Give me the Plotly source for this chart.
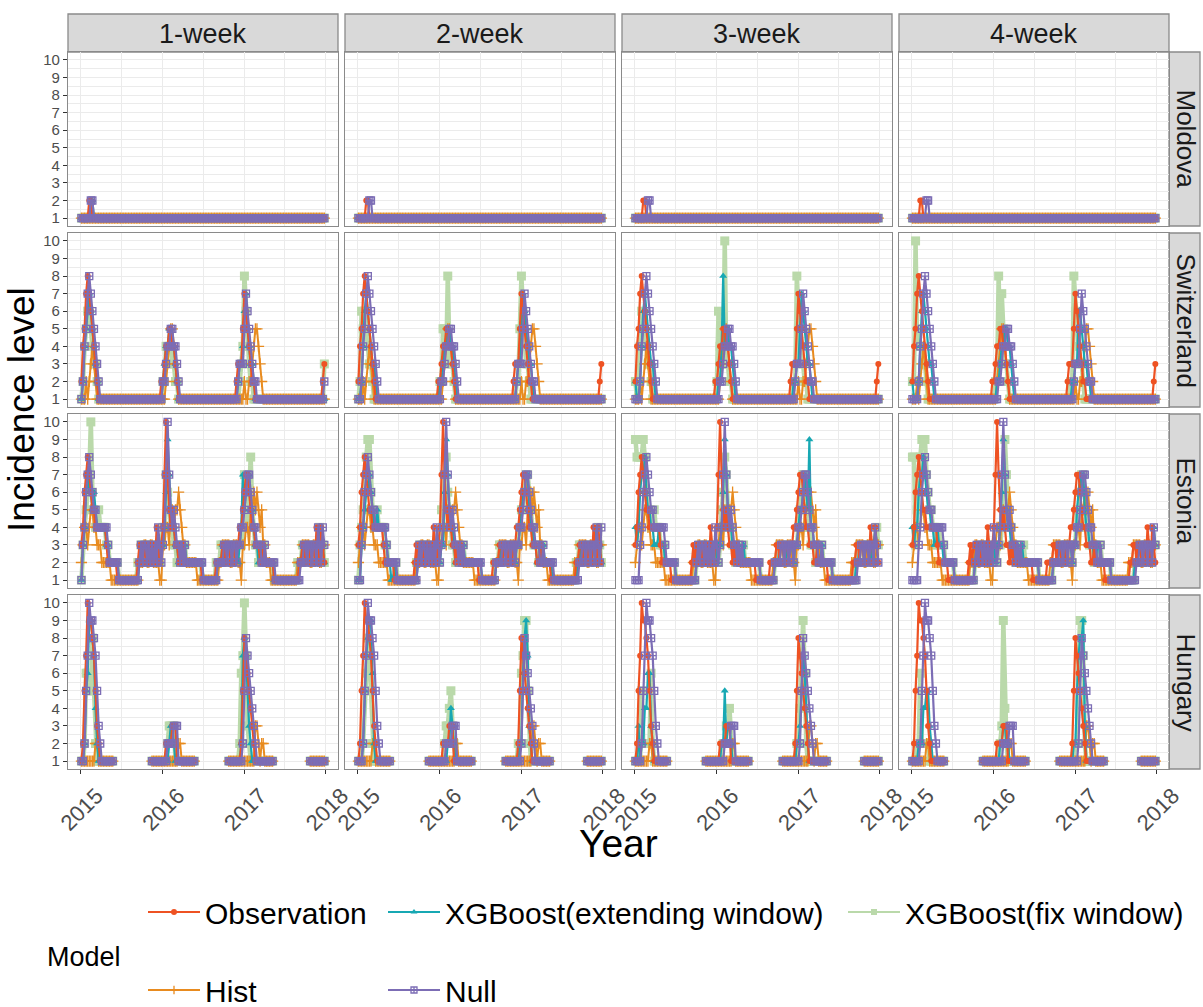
import plotly.graph_objects as go
from datetime import date, timedelta

# Weekly time axis (ISO weeks starting Monday 2015-01-05)
N_WEEKS = 156
weeks = [(date(2015, 1, 5) + timedelta(weeks=i)).isoformat() for i in range(N_WEEKS)]

horizons = ["1-week", "2-week", "3-week", "4-week"]
countries = ["Moldova", "Switzerland", "Estonia", "Hungary"]
models = ["Observation", "XGBoost(extending window)", "XGBoost(fix window)", "Hist", "Null"]
year_ticks = ["2015-01-01", "2016-01-01", "2017-01-01", "2018-01-01"]
year_labels = ["2015", "2016", "2017", "2018"]
level_ticks = [1, 2, 3, 4, 5, 6, 7, 8, 9, 10]

# Each series is a list of (week index, incidence level) change points;
# the level holds until the next change point. None marks weeks without data.

# ---------------- Moldova ----------------
obs_moldova = [(0, 1), (5, 2), (7, 1)]
hist_moldova = [(0, 1)]
null_moldova_1w = [(0, 1), (6, 2), (8, 1)]
null_moldova_2w = [(0, 1), (7, 2), (9, 1)]
null_moldova_3w = [(0, 1), (8, 2), (10, 1)]
null_moldova_4w = [(0, 1), (9, 2), (11, 1)]
ext_moldova_1w = [(0, 1), (6, 2), (8, 1)]
ext_moldova_2w = [(0, 1)]
ext_moldova_3w = [(0, 1)]
ext_moldova_4w = [(0, 1)]
fix_moldova_1w = [(0, 1)]
fix_moldova_2w = [(0, 1)]
fix_moldova_3w = [(0, 1)]
fix_moldova_4w = [(0, 1)]

# ---------------- Switzerland ----------------
obs_switzerland = [(0, 2), (1, 4), (2, 5), (3, 7), (4, 8), (5, 7), (6, 6), (7, 5), (8, 4), (9, 3), (10, 2), (11, 1),
                   (51, 2), (53, 3), (54, 4), (56, 5), (58, 4), (60, 3), (61, 2), (62, 1),
                   (99, 2), (100, 3), (103, 5), (104, 7), (105, 6), (106, 5), (107, 4), (108, 3), (109, 2), (111, 1),
                   (154, 2), (155, 3)]
hist_switzerland = [(0, 1), (3, 2), (4, 1), (5, 2), (6, 3), (7, 4), (8, 3), (9, 2), (10, 1),
                    (54, 2), (55, 3), (56, 4), (57, 5), (59, 4), (60, 3), (61, 2), (62, 1),
                    (104, 2), (105, 1), (107, 2), (109, 3), (110, 4), (111, 5), (113, 4), (114, 3), (115, 2), (116, 1)]
null_switzerland_1w = [(0, 1), (1, 2), (2, 4), (3, 5), (4, 7), (5, 8), (6, 7), (7, 6), (8, 5), (9, 4), (10, 3), (11, 2), (12, 1),
                       (52, 2), (54, 3), (55, 4), (57, 5), (59, 4), (61, 3), (62, 2), (63, 1),
                       (100, 2), (101, 3), (104, 5), (105, 7), (106, 6), (107, 5), (108, 4), (109, 3), (110, 2), (112, 1),
                       (155, 2)]
null_switzerland_2w = [(0, 1), (2, 2), (3, 4), (4, 5), (5, 7), (6, 8), (7, 7), (8, 6), (9, 5), (10, 4), (11, 3), (12, 2), (13, 1),
                       (53, 2), (55, 3), (56, 4), (58, 5), (60, 4), (62, 3), (63, 2), (64, 1),
                       (101, 2), (102, 3), (105, 5), (106, 7), (107, 6), (108, 5), (109, 4), (110, 3), (111, 2), (113, 1)]
null_switzerland_3w = [(0, 1), (3, 2), (4, 4), (5, 5), (6, 7), (7, 8), (8, 7), (9, 6), (10, 5), (11, 4), (12, 3), (13, 2), (14, 1),
                       (54, 2), (56, 3), (57, 4), (59, 5), (61, 4), (63, 3), (64, 2), (65, 1),
                       (102, 2), (103, 3), (106, 5), (107, 7), (108, 6), (109, 5), (110, 4), (111, 3), (112, 2), (114, 1)]
null_switzerland_4w = [(0, 1), (4, 2), (5, 4), (6, 5), (7, 7), (8, 8), (9, 7), (10, 6), (11, 5), (12, 4), (13, 3), (14, 2), (15, 1),
                       (55, 2), (57, 3), (58, 4), (60, 5), (62, 4), (64, 3), (65, 2), (66, 1),
                       (103, 2), (104, 3), (107, 5), (108, 7), (109, 6), (110, 5), (111, 4), (112, 3), (113, 2), (115, 1)]
ext_switzerland_1w = [(0, 1), (1, 2), (2, 4), (3, 5), (4, 6), (5, 7), (6, 6), (7, 5), (8, 4), (9, 3), (10, 2), (11, 1),
                      (52, 2), (53, 3), (54, 4), (56, 5), (58, 4), (60, 3), (61, 2), (62, 1),
                      (100, 2), (101, 3), (103, 4), (104, 6), (105, 7), (106, 5), (107, 4), (108, 3), (110, 2), (111, 1)]
ext_switzerland_2w = [(0, 1), (2, 2), (3, 4), (4, 6), (5, 7), (6, 6), (7, 5), (8, 4), (9, 3), (11, 2), (12, 1),
                      (52, 2), (54, 3), (55, 4), (57, 5), (59, 4), (61, 3), (62, 2), (63, 1),
                      (101, 2), (102, 3), (104, 5), (105, 7), (106, 6), (107, 5), (108, 4), (109, 3), (111, 2), (112, 1)]
ext_switzerland_3w = [(0, 2), (1, 1), (3, 2), (4, 4), (5, 6), (6, 7), (7, 6), (8, 5), (9, 4), (10, 3), (12, 2), (13, 1),
                      (53, 2), (55, 4), (56, 8), (57, 4), (58, 5), (60, 4), (62, 3), (63, 2), (64, 1),
                      (101, 2), (103, 3), (105, 5), (106, 7), (107, 6), (108, 5), (109, 4), (110, 3), (112, 2), (113, 1)]
ext_switzerland_4w = [(0, 2), (1, 1), (4, 2), (5, 4), (6, 6), (7, 7), (8, 6), (9, 5), (10, 4), (11, 3), (13, 2), (14, 1),
                      (54, 2), (56, 3), (57, 4), (59, 5), (61, 4), (63, 3), (64, 2), (65, 1),
                      (102, 2), (104, 3), (106, 6), (108, 5), (109, 4), (110, 3), (112, 2), (114, 1)]
fix_switzerland_1w = [(0, 1), (1, 2), (2, 4), (3, 5), (4, 6), (6, 5), (7, 4), (8, 3), (10, 2), (11, 1),
                      (52, 2), (54, 4), (58, 3), (60, 2), (62, 1),
                      (101, 2), (102, 3), (103, 4), (104, 8), (105, 6), (106, 4), (107, 3), (108, 2), (110, 1),
                      (155, 3)]
fix_switzerland_2w = [(0, 1), (1, 2), (2, 6), (3, 5), (4, 6), (5, 5), (6, 4), (7, 3), (9, 2), (10, 1),
                      (52, 2), (54, 5), (56, 3), (57, 8), (58, 4), (59, 3), (61, 2), (62, 1),
                      (101, 2), (103, 5), (104, 8), (105, 6), (106, 4), (107, 3), (109, 2), (110, 1)]
fix_switzerland_3w = [(0, 2), (1, 1), (2, 2), (3, 4), (4, 6), (5, 5), (6, 4), (8, 3), (10, 2), (11, 1),
                      (52, 2), (53, 6), (54, 4), (55, 3), (57, 10), (58, 3), (60, 2), (62, 1),
                      (101, 2), (103, 8), (104, 5), (105, 4), (106, 3), (108, 2), (110, 1)]
fix_switzerland_4w = [(0, 2), (2, 10), (3, 4), (4, 5), (5, 4), (7, 3), (9, 2), (10, 1),
                      (53, 2), (55, 8), (56, 4), (57, 7), (58, 5), (59, 3), (61, 2), (62, 1),
                      (101, 2), (103, 8), (104, 6), (105, 5), (106, 4), (107, 3), (109, 2), (110, 1)]

# ---------------- Estonia ----------------
obs_estonia = [(0, 3), (1, 4), (2, 6), (3, 7), (4, 8), (5, 7), (6, 6), (7, 5), (9, 4), (16, 3), (17, 2), (23, 1),
               (36, 2), (37, 3), (38, 2), (39, 3), (41, 2), (42, 3), (43, 2), (44, 3), (45, 2), (46, 3), (47, 2),
               (48, 4), (49, 3), (50, 2), (51, 3), (52, 4), (53, 7), (54, 10), (55, 7), (56, 5), (57, 4), (58, 5),
               (59, 4), (60, 3), (62, 2), (63, 3), (64, 2), (65, 3), (66, 2), (77, 1), (86, 2), (90, 3), (92, 2),
               (93, 3), (95, 2), (96, 3), (98, 2), (99, 3), (101, 4), (103, 5), (104, 6), (105, 7), (107, 6),
               (108, 5), (109, 4), (111, 3), (114, 2), (116, 3), (117, 2), (123, 1), (139, 2), (141, 3), (143, 2),
               (144, 3), (146, 2), (147, 3), (149, 2), (150, 4), (151, 3), (152, 2), (153, 4), (154, 3), (155, 2)]
hist_estonia = [(0, 2), (1, 3), (2, 4), (4, 3), (5, 4), (6, 5), (8, 4), (10, 3), (13, 2), (19, 1),
                (37, 2), (40, 3), (42, 2), (44, 3), (46, 2), (50, 1), (52, 3), (54, 4), (56, 3), (57, 5), (59, 4),
                (60, 5), (62, 6), (63, 5), (64, 4), (65, 3), (67, 2), (74, 1), (88, 2), (90, 3), (95, 2), (97, 3),
                (100, 2), (102, 1), (103, 3), (105, 4), (107, 3), (108, 5), (110, 6), (111, 5), (112, 6), (113, 5),
                (114, 4), (115, 5), (116, 3), (118, 2), (121, 1), (138, 2), (141, 3), (146, 2), (148, 3), (152, 2),
                (154, 3)]
null_estonia_1w = [(0, 1), (1, 3), (2, 4), (3, 6), (4, 7), (5, 8), (6, 7), (7, 6), (8, 5), (10, 4), (17, 3), (18, 2),
                   (24, 1), (37, 2), (38, 3), (39, 2), (40, 3), (42, 2), (43, 3), (44, 2), (45, 3), (46, 2), (47, 3),
                   (48, 2), (49, 4), (50, 3), (51, 2), (52, 3), (53, 4), (54, 7), (55, 10), (56, 7), (57, 5), (58, 4),
                   (59, 5), (60, 4), (61, 3), (63, 2), (64, 3), (65, 2), (66, 3), (67, 2), (78, 1), (87, 2), (91, 3),
                   (93, 2), (94, 3), (96, 2), (97, 3), (99, 2), (100, 3), (102, 4), (104, 5), (105, 6), (106, 7),
                   (108, 6), (109, 5), (110, 4), (112, 3), (115, 2), (117, 3), (118, 2), (124, 1), (140, 2), (142, 3),
                   (144, 2), (145, 3), (147, 2), (148, 3), (150, 2), (151, 4), (152, 3), (153, 2), (154, 4), (155, 3)]
null_estonia_2w = [(0, 1), (2, 3), (3, 4), (4, 6), (5, 7), (6, 8), (7, 7), (8, 6), (9, 5), (11, 4), (18, 3), (19, 2),
                   (25, 1), (38, 2), (39, 3), (40, 2), (41, 3), (43, 2), (44, 3), (45, 2), (46, 3), (47, 2), (48, 3),
                   (49, 2), (50, 4), (51, 3), (52, 2), (53, 3), (54, 4), (55, 7), (56, 10), (57, 7), (58, 5), (59, 4),
                   (60, 5), (61, 4), (62, 3), (64, 2), (65, 3), (66, 2), (67, 3), (68, 2), (79, 1), (88, 2), (92, 3),
                   (94, 2), (95, 3), (97, 2), (98, 3), (100, 2), (101, 3), (103, 4), (105, 5), (106, 6), (107, 7),
                   (109, 6), (110, 5), (111, 4), (113, 3), (116, 2), (118, 3), (119, 2), (125, 1), (141, 2), (143, 3),
                   (145, 2), (146, 3), (148, 2), (149, 3), (151, 2), (152, 4), (153, 3), (154, 2), (155, 4)]
null_estonia_3w = [(0, 1), (3, 3), (4, 4), (5, 6), (6, 7), (7, 8), (8, 7), (9, 6), (10, 5), (12, 4), (19, 3), (20, 2),
                   (26, 1), (39, 2), (40, 3), (41, 2), (42, 3), (44, 2), (45, 3), (46, 2), (47, 3), (48, 2), (49, 3),
                   (50, 2), (51, 4), (52, 3), (53, 2), (54, 3), (55, 4), (56, 7), (57, 10), (58, 7), (59, 5), (60, 4),
                   (61, 5), (62, 4), (63, 3), (65, 2), (66, 3), (67, 2), (68, 3), (69, 2), (80, 1), (89, 2), (93, 3),
                   (95, 2), (96, 3), (98, 2), (99, 3), (101, 2), (102, 3), (104, 4), (106, 5), (107, 6), (108, 7),
                   (110, 6), (111, 5), (112, 4), (114, 3), (117, 2), (119, 3), (120, 2), (126, 1), (142, 2), (144, 3),
                   (146, 2), (147, 3), (149, 2), (150, 3), (152, 2), (153, 4), (154, 3), (155, 2)]
null_estonia_4w = [(0, 1), (4, 3), (5, 4), (6, 6), (7, 7), (8, 8), (9, 7), (10, 6), (11, 5), (13, 4), (20, 3), (21, 2),
                   (27, 1), (40, 2), (41, 3), (42, 2), (43, 3), (45, 2), (46, 3), (47, 2), (48, 3), (49, 2), (50, 3),
                   (51, 2), (52, 4), (53, 3), (54, 2), (55, 3), (56, 4), (57, 7), (58, 10), (59, 7), (60, 5), (61, 4),
                   (62, 5), (63, 4), (64, 3), (66, 2), (67, 3), (68, 2), (69, 3), (70, 2), (81, 1), (90, 2), (94, 3),
                   (96, 2), (97, 3), (99, 2), (100, 3), (102, 2), (103, 3), (105, 4), (107, 5), (108, 6), (109, 7),
                   (111, 6), (112, 5), (113, 4), (115, 3), (118, 2), (120, 3), (121, 2), (127, 1), (143, 2), (145, 3),
                   (147, 2), (148, 3), (150, 2), (151, 3), (153, 2), (154, 4), (155, 3)]
ext_estonia_1w = [(0, 1), (1, 3), (2, 4), (3, 6), (4, 7), (5, 6), (7, 5), (8, 6), (9, 5), (10, 4), (16, 3), (18, 2),
                  (24, 1), (37, 2), (38, 3), (39, 2), (40, 3), (42, 2), (43, 3), (45, 2), (46, 3), (48, 2), (49, 3),
                  (50, 2), (51, 3), (53, 4), (54, 6), (55, 9), (56, 7), (57, 5), (58, 4), (60, 3), (62, 2), (63, 3),
                  (64, 2), (66, 3), (67, 2), (78, 1), (87, 2), (90, 3), (92, 2), (93, 3), (95, 2), (97, 3), (100, 2),
                  (101, 3), (102, 4), (103, 7), (104, 5), (105, 6), (106, 7), (108, 5), (110, 4), (111, 3), (113, 2),
                  (115, 3), (117, 2), (123, 1), (139, 2), (141, 3), (143, 2), (145, 3), (147, 2), (148, 3), (150, 2),
                  (151, 3), (152, 4), (153, 3), (155, 2)]
ext_estonia_2w = [(0, 1), (2, 3), (3, 4), (4, 5), (5, 6), (7, 7), (8, 6), (9, 5), (10, 4), (12, 5), (13, 4), (18, 3),
                  (19, 2), (21, 1), (23, 2), (24, 1), (38, 2), (40, 3), (41, 2), (43, 3), (45, 2), (46, 3), (48, 2),
                  (50, 3), (52, 2), (53, 3), (55, 6), (56, 9), (57, 7), (58, 5), (59, 4), (61, 3), (62, 2), (64, 3),
                  (65, 2), (67, 3), (68, 2), (79, 1), (88, 2), (91, 3), (95, 2), (96, 3), (100, 2), (101, 3), (103, 4),
                  (104, 5), (105, 6), (107, 7), (109, 5), (110, 4), (112, 3), (114, 2), (117, 3), (119, 2), (124, 1),
                  (140, 2), (142, 3), (145, 2), (146, 3), (149, 2), (150, 3), (152, 4), (153, 3), (155, 2)]
ext_estonia_3w = [(0, 4), (1, 3), (2, 4), (3, 6), (4, 7), (6, 8), (7, 6), (8, 5), (10, 4), (12, 3), (15, 4), (16, 3),
                  (19, 2), (26, 1), (39, 2), (40, 3), (42, 2), (44, 3), (46, 2), (47, 3), (49, 2), (50, 3), (52, 2),
                  (53, 3), (55, 4), (56, 6), (57, 9), (58, 7), (59, 5), (60, 4), (62, 3), (64, 2), (66, 3), (67, 2),
                  (69, 3), (70, 2), (80, 1), (89, 2), (92, 3), (95, 2), (97, 3), (101, 2), (102, 3), (104, 4), (105, 5),
                  (107, 6), (108, 7), (109, 6), (110, 5), (111, 9), (112, 4), (114, 3), (117, 2), (119, 3), (120, 2),
                  (126, 1), (141, 2), (143, 3), (146, 2), (147, 3), (150, 2), (151, 3), (153, 4), (154, 3), (155, 2)]
ext_estonia_4w = [(0, 4), (1, 3), (2, 4), (4, 6), (5, 7), (7, 8), (8, 7), (9, 6), (10, 5), (12, 4), (14, 3), (16, 4),
                  (17, 3), (20, 2), (27, 1), (40, 2), (41, 3), (43, 2), (45, 3), (47, 2), (48, 3), (50, 2), (51, 3),
                  (53, 2), (54, 3), (56, 4), (57, 6), (58, 9), (59, 7), (60, 5), (61, 4), (63, 3), (65, 2), (67, 3),
                  (68, 2), (70, 3), (71, 2), (81, 1), (90, 2), (93, 3), (96, 2), (98, 3), (102, 2), (103, 3), (105, 5),
                  (106, 6), (107, 7), (108, 6), (109, 7), (110, 5), (111, 4), (113, 3), (116, 2), (118, 3), (120, 2),
                  (127, 1), (142, 2), (144, 3), (147, 2), (148, 3), (151, 2), (152, 3), (154, 4), (155, 3)]
fix_estonia_1w = [(0, 1), (1, 3), (2, 4), (3, 5), (4, 6), (5, 7), (6, 10), (7, 6), (8, 5), (9, 4), (11, 5), (12, 4),
                  (16, 3), (18, 2), (24, 1), (36, 2), (38, 3), (40, 2), (41, 3), (43, 2), (45, 3), (47, 2), (49, 3),
                  (50, 2), (51, 3), (52, 4), (54, 7), (55, 6), (56, 5), (57, 4), (59, 3), (61, 2), (63, 3), (64, 2),
                  (66, 3), (67, 2), (77, 1), (86, 2), (89, 3), (92, 2), (93, 3), (96, 2), (97, 3), (99, 2), (100, 3),
                  (103, 4), (104, 7), (105, 6), (106, 4), (107, 6), (108, 8), (109, 5), (110, 4), (111, 3), (113, 2),
                  (116, 3), (117, 2), (123, 1), (138, 2), (141, 3), (143, 2), (145, 3), (148, 2), (150, 3), (152, 4),
                  (153, 3), (155, 2)]
fix_estonia_2w = [(0, 1), (1, 3), (2, 4), (3, 5), (4, 6), (5, 8), (6, 9), (8, 6), (9, 5), (10, 4), (12, 5), (13, 4),
                  (17, 3), (19, 2), (25, 1), (37, 2), (39, 3), (41, 2), (42, 3), (44, 2), (46, 3), (48, 2), (50, 3),
                  (51, 2), (52, 3), (53, 5), (54, 4), (55, 7), (56, 8), (57, 6), (58, 5), (59, 4), (60, 3), (62, 2),
                  (64, 3), (65, 2), (67, 3), (68, 2), (78, 1), (87, 2), (90, 3), (93, 2), (94, 3), (97, 2), (98, 3),
                  (100, 2), (101, 3), (103, 4), (104, 5), (106, 6), (107, 7), (109, 6), (110, 5), (111, 4), (112, 3),
                  (115, 2), (117, 3), (118, 2), (124, 1), (139, 2), (141, 3), (144, 2), (145, 3), (148, 2), (150, 3),
                  (153, 4), (154, 3), (155, 2)]
fix_estonia_3w = [(0, 9), (1, 8), (5, 9), (6, 8), (7, 6), (8, 5), (10, 4), (12, 5), (13, 4), (16, 3), (19, 2), (26, 1),
                  (39, 2), (41, 3), (42, 2), (44, 3), (46, 2), (48, 3), (49, 2), (51, 3), (53, 2), (54, 3), (55, 5),
                  (56, 6), (57, 8), (58, 7), (59, 5), (60, 4), (62, 3), (64, 2), (66, 3), (67, 2), (69, 3), (70, 2),
                  (80, 1), (89, 2), (92, 3), (95, 2), (97, 3), (101, 2), (102, 3), (104, 4), (105, 5), (106, 6),
                  (107, 7), (109, 5), (110, 4), (112, 3), (115, 2), (118, 3), (120, 2), (126, 1), (141, 2), (143, 3),
                  (146, 2), (148, 3), (151, 2), (152, 3), (154, 4), (155, 3)]
fix_estonia_4w = [(0, 8), (2, 3), (3, 5), (4, 6), (5, 8), (6, 9), (9, 7), (10, 6), (11, 5), (13, 4), (15, 3), (17, 4),
                  (18, 3), (21, 2), (27, 1), (40, 2), (42, 3), (43, 2), (45, 3), (47, 2), (49, 3), (50, 2), (52, 3),
                  (54, 2), (55, 3), (57, 4), (58, 6), (59, 9), (60, 7), (61, 5), (62, 4), (64, 3), (66, 2), (68, 3),
                  (69, 2), (71, 3), (72, 2), (81, 1), (90, 2), (93, 3), (96, 2), (98, 3), (102, 2), (103, 3), (105, 5),
                  (107, 6), (108, 7), (110, 6), (111, 4), (113, 3), (116, 2), (118, 3), (121, 2), (127, 1), (142, 2),
                  (144, 3), (147, 2), (149, 3), (152, 2), (153, 3)]

# ---------------- Hungary (reported in-season only) ----------------
obs_hungary = [(0, 1), (1, 2), (2, 5), (3, 7), (4, 10), (5, 9), (7, 8), (8, 7), (9, 5), (10, 3), (11, 2), (12, 1),
               (21, None), (45, 1), (54, 2), (58, 3), (61, 1), (73, None),
               (94, 1), (102, 2), (103, 5), (104, 8), (105, 7), (106, 6), (107, 5), (108, 4), (109, 3), (110, 2),
               (111, 1), (123, None), (146, 1)]
hist_hungary = [(0, 1), (9, 2), (11, 1), (21, None), (45, 1), (62, 2), (64, 1), (73, None),
                (94, 1), (111, 3), (113, 2), (114, 1), (115, 2), (117, 1), (123, None), (146, 1)]
null_hungary_1w = [(0, 1), (2, 2), (3, 5), (4, 7), (5, 10), (6, 9), (8, 8), (9, 7), (10, 5), (11, 3), (12, 2), (13, 1),
                   (21, None), (45, 1), (55, 2), (59, 3), (62, 1), (73, None),
                   (94, 1), (103, 2), (104, 5), (105, 8), (106, 7), (107, 6), (108, 5), (109, 4), (110, 3), (111, 2),
                   (112, 1), (123, None), (146, 1)]
null_hungary_2w = [(0, 1), (3, 2), (4, 5), (5, 7), (6, 10), (7, 9), (9, 8), (10, 7), (11, 5), (12, 3), (13, 2), (14, 1),
                   (21, None), (45, 1), (56, 2), (60, 3), (63, 1), (73, None),
                   (94, 1), (104, 2), (105, 5), (106, 8), (107, 7), (108, 6), (109, 5), (110, 4), (111, 3), (112, 2),
                   (113, 1), (123, None), (146, 1)]
null_hungary_3w = [(0, 1), (4, 2), (5, 5), (6, 7), (7, 10), (8, 9), (10, 8), (11, 7), (12, 5), (13, 3), (14, 2), (15, 1),
                   (21, None), (45, 1), (57, 2), (61, 3), (64, 1), (73, None),
                   (94, 1), (105, 2), (106, 5), (107, 8), (108, 7), (109, 6), (110, 5), (111, 4), (112, 3), (113, 2),
                   (114, 1), (123, None), (146, 1)]
null_hungary_4w = [(0, 1), (5, 2), (6, 5), (7, 7), (8, 10), (9, 9), (11, 8), (12, 7), (13, 5), (14, 3), (15, 2), (16, 1),
                   (21, None), (45, 1), (58, 2), (62, 3), (65, 1), (73, None),
                   (94, 1), (106, 2), (107, 5), (108, 8), (109, 7), (110, 6), (111, 5), (112, 4), (113, 3), (114, 2),
                   (115, 1), (123, None), (146, 1)]
ext_hungary_1w = [(0, 1), (2, 2), (3, 5), (4, 6), (5, 9), (7, 8), (8, 7), (9, 4), (10, 2), (11, 1),
                  (21, None), (45, 1), (56, 2), (57, 3), (59, 2), (60, 1), (73, None),
                  (94, 1), (102, 2), (103, 7), (104, 8), (105, 7), (106, 5), (107, 3), (108, 2), (109, 1),
                  (123, None), (146, 1)]
ext_hungary_2w = [(0, 1), (3, 2), (4, 5), (5, 7), (6, 8), (7, 9), (9, 6), (10, 2), (11, 1),
                  (21, None), (45, 1), (57, 2), (59, 4), (60, 3), (61, 2), (62, 1), (73, None),
                  (94, 1), (103, 2), (105, 6), (106, 8), (107, 9), (108, 7), (109, 3), (110, 2), (111, 1),
                  (123, None), (146, 1)]
ext_hungary_3w = [(0, 1), (2, 3), (3, 1), (4, 2), (6, 4), (8, 6), (10, 3), (11, 2), (12, 1),
                  (21, None), (45, 1), (55, 2), (57, 5), (58, 2), (59, 3), (61, 2), (62, 1), (73, None),
                  (94, 1), (103, 2), (105, 3), (106, 5), (107, 7), (108, 6), (109, 4), (110, 2), (111, 1),
                  (123, None), (146, 1)]
ext_hungary_4w = [(0, 1), (4, 2), (7, 4), (9, 5), (11, 3), (12, 2), (13, 1),
                  (21, None), (45, 1), (56, 2), (58, 3), (60, 2), (62, 1), (73, None),
                  (94, 1), (103, 2), (105, 5), (106, 7), (107, 8), (109, 9), (110, 3), (111, 1),
                  (123, None), (146, 1)]
fix_hungary_1w = [(0, 1), (2, 2), (3, 6), (5, 5), (7, 8), (8, 5), (9, 2), (10, 1),
                  (21, None), (45, 1), (55, 2), (56, 3), (60, 1), (73, None),
                  (94, 1), (101, 2), (102, 6), (103, 7), (104, 10), (105, 7), (106, 3), (107, 2), (108, 1),
                  (123, None), (146, 1)]
fix_hungary_2w = [(0, 1), (3, 2), (4, 5), (5, 6), (6, 8), (7, 7), (8, 5), (9, 2), (10, 1),
                  (21, None), (45, 1), (55, 2), (56, 3), (58, 4), (59, 5), (60, 3), (61, 2), (62, 1), (73, None),
                  (94, 1), (102, 2), (104, 6), (105, 7), (106, 9), (108, 5), (109, 2), (110, 1),
                  (123, None), (146, 1)]
fix_hungary_3w = [(0, 1), (4, 5), (5, 2), (10, 6), (11, 2), (12, 1),
                  (21, None), (45, 1), (56, 2), (58, 3), (60, 4), (61, 2), (62, 1), (73, None),
                  (94, 1), (103, 2), (105, 4), (106, 7), (107, 9), (108, 6), (109, 2), (110, 1),
                  (123, None), (146, 1)]
fix_hungary_4w = [(0, 1), (3, 2), (5, 6), (6, 2), (10, 2), (11, 1),
                  (21, None), (45, 1), (56, 2), (57, 3), (58, 9), (59, 4), (60, 2), (61, 1), (73, None),
                  (94, 1), (104, 2), (106, 7), (107, 9), (109, 7), (110, 2), (111, 1),
                  (123, None), (146, 1)]


def weekly(changes):
    """Expand (week, level) change points into one value per week."""
    out, j, level = [], 0, None
    for w in range(N_WEEKS):
        while j < len(changes) and changes[j][0] <= w:
            level = changes[j][1]
            j += 1
        out.append(level)
    return out


series = {
    "Moldova": {
        "obs": obs_moldova, "hist": hist_moldova,
        "null": [null_moldova_1w, null_moldova_2w, null_moldova_3w, null_moldova_4w],
        "ext": [ext_moldova_1w, ext_moldova_2w, ext_moldova_3w, ext_moldova_4w],
        "fix": [fix_moldova_1w, fix_moldova_2w, fix_moldova_3w, fix_moldova_4w]},
    "Switzerland": {
        "obs": obs_switzerland, "hist": hist_switzerland,
        "null": [null_switzerland_1w, null_switzerland_2w, null_switzerland_3w, null_switzerland_4w],
        "ext": [ext_switzerland_1w, ext_switzerland_2w, ext_switzerland_3w, ext_switzerland_4w],
        "fix": [fix_switzerland_1w, fix_switzerland_2w, fix_switzerland_3w, fix_switzerland_4w]},
    "Estonia": {
        "obs": obs_estonia, "hist": hist_estonia,
        "null": [null_estonia_1w, null_estonia_2w, null_estonia_3w, null_estonia_4w],
        "ext": [ext_estonia_1w, ext_estonia_2w, ext_estonia_3w, ext_estonia_4w],
        "fix": [fix_estonia_1w, fix_estonia_2w, fix_estonia_3w, fix_estonia_4w]},
    "Hungary": {
        "obs": obs_hungary, "hist": hist_hungary,
        "null": [null_hungary_1w, null_hungary_2w, null_hungary_3w, null_hungary_4w],
        "ext": [ext_hungary_1w, ext_hungary_2w, ext_hungary_3w, ext_hungary_4w],
        "fix": [fix_hungary_1w, fix_hungary_2w, fix_hungary_3w, fix_hungary_4w]},
}

# ---------------- styling ----------------
W, H = 1203, 1007
FONT = "Liberation Sans"
style = {
    "Observation": dict(color="#EE5223", symbol="circle", size=6, width=2.2, legend="legend", rank=1),
    "XGBoost(extending window)": dict(color="#17A8B3", symbol="triangle-up", size=7, width=2.2, legend="legend2", rank=2),
    "XGBoost(fix window)": dict(color="#BAD9AA", symbol="square", size=9, width=4.5, legend="legend3", rank=3),
    "Hist": dict(color="#E88B1F", symbol="cross-thin-open", size=8, width=2.0, legend="legend4", rank=4),
    "Null": dict(color="#7C6DB5", symbol="square-cross-open", size=7, width=2.2, legend="legend5", rank=5),
}
draw_order = ["XGBoost(fix window)", "Hist", "XGBoost(extending window)", "Observation", "Null"]
key_of = {"Observation": "obs", "XGBoost(extending window)": "ext", "XGBoost(fix window)": "fix",
          "Hist": "hist", "Null": "null"}

COL_LEFT, COL_W, COL_STEP = 68, 270, 277
ROW_TOP, ROW_H, ROW_STEP = 52, 174, 181
STRIP_TOP = 14
RIGHT_STRIP = (1169, 1200)
BORDER = "#8A8A8A"
GRID = "#EBEBEB"


def px_x(x):
    return x / W


def px_y(y):
    return 1 - y / H


def label(text, x, y, size, angle=0, xanchor="center", color="#000000"):
    return dict(text=text, xref="paper", yref="paper", x=px_x(x), y=px_y(y), showarrow=False,
                xanchor=xanchor, yanchor="middle", textangle=angle,
                font=dict(family=FONT, size=size, color=color))


def marker_for(st, size=None):
    m = dict(symbol=st["symbol"], size=size or st["size"], color=st["color"])
    if st["symbol"].endswith("open"):
        m["line"] = dict(color=st["color"], width=1.3)
    return m


fig = go.Figure()
layout_axes = {}

for r, country in enumerate(countries):
    for c, horizon in enumerate(horizons):
        k = r * 4 + c + 1
        xa, ya = ("x" if k == 1 else f"x{k}"), ("y" if k == 1 else f"y{k}")
        for model in draw_order:
            st = style[model]
            data = series[country][key_of[model]]
            changes = data[c] if isinstance(data[0], list) else data
            fig.add_trace(go.Scatter(
                x=weeks, y=weekly(changes), mode="lines+markers", name=model,
                line=dict(color=st["color"], width=st["width"]), marker=marker_for(st),
                connectgaps=False, xaxis=xa, yaxis=ya, showlegend=False, hoverinfo="skip"))

        x0 = COL_LEFT + c * COL_STEP
        y0 = ROW_TOP + r * ROW_STEP
        xname = "xaxis" if k == 1 else f"xaxis{k}"
        yname = "yaxis" if k == 1 else f"yaxis{k}"
        layout_axes[xname] = dict(
            domain=[px_x(x0), px_x(x0 + COL_W)], anchor=ya, type="date", automargin=False,
            range=["2014-11-06", "2018-02-24"], tickvals=year_ticks, ticktext=year_labels,
            showticklabels=(r == 3), ticks="outside" if r == 3 else "", ticklen=4, tickcolor="#333333",
            tickangle=-45, ticklabelshift=16, tickfont=dict(family=FONT, size=22, color="#4D4D4D"),
            showgrid=True, gridcolor=GRID, gridwidth=1.1,
            minor=dict(tickvals=["2015-07-02", "2016-07-02", "2017-07-02"], showgrid=True,
                       gridcolor=GRID, gridwidth=0.6, ticks=""),
            showline=True, mirror=True, linecolor=BORDER, linewidth=1.3, zeroline=False)
        layout_axes[yname] = dict(
            domain=[px_y(y0 + ROW_H), px_y(y0)], anchor=xa, range=[0.55, 10.45], automargin=False,
            tickvals=level_ticks, ticktext=[str(v) for v in level_ticks],
            showticklabels=(c == 0), ticks="outside" if c == 0 else "", ticklen=4, tickcolor="#333333",
            tickfont=dict(family=FONT, size=15, color="#4D4D4D"),
            showgrid=True, gridcolor=GRID, gridwidth=1.1,
            minor=dict(tickvals=[v + 0.5 for v in range(0, 11)], showgrid=True, gridcolor=GRID,
                       gridwidth=0.6, ticks=""),
            showline=True, mirror=True, linecolor=BORDER, linewidth=1.3, zeroline=False)

# legend keys: one entry per model, drawn with uniform thin lines
for model in models:
    st = style[model]
    fig.add_trace(go.Scatter(
        x=[None], y=[None], mode="lines+markers", name=model,
        line=dict(color=st["color"], width=2.0), marker=marker_for(st, size=6),
        legend=st["legend"], legendrank=st["rank"], showlegend=True, hoverinfo="skip"))

shapes, annotations = [], []
# facet strips: horizons along the top, countries down the right side
for c, horizon in enumerate(horizons):
    x0 = COL_LEFT + c * COL_STEP
    shapes.append(dict(type="rect", xref="paper", yref="paper", x0=px_x(x0), x1=px_x(x0 + COL_W),
                       y0=px_y(ROW_TOP), y1=px_y(STRIP_TOP), fillcolor="#D9D9D9",
                       line=dict(color=BORDER, width=1.3), layer="below"))
    annotations.append(label(horizon, x0 + COL_W / 2, (ROW_TOP + STRIP_TOP) / 2 + 1, 27, color="#1A1A1A"))
for r, country in enumerate(countries):
    y0 = ROW_TOP + r * ROW_STEP
    shapes.append(dict(type="rect", xref="paper", yref="paper", x0=px_x(RIGHT_STRIP[0]), x1=px_x(RIGHT_STRIP[1]),
                       y0=px_y(y0 + ROW_H), y1=px_y(y0), fillcolor="#D9D9D9",
                       line=dict(color=BORDER, width=1.3), layer="below"))
    annotations.append(label(country, sum(RIGHT_STRIP) / 2 + 1, y0 + ROW_H / 2, 26, angle=90, color="#1A1A1A"))

# axis titles and legend title
annotations.append(label("Year", (COL_LEFT + 1169) / 2, 843, 39))
annotations.append(label("Incidence level", 21, 410, 37, angle=-90))
annotations.append(label("Model", 45, 957, 27, xanchor="left"))

legend_pos = {"legend": (143, 912), "legend2": (383, 912), "legend3": (843, 912),
              "legend4": (143, 990), "legend5": (383, 990)}
legends = {}
for name, (lx, ly) in legend_pos.items():
    legends[name] = dict(x=px_x(lx), y=px_y(ly), xref="container", yref="container",
                         xanchor="left", yanchor="middle", orientation="h",
                         bgcolor="rgba(0,0,0,0)", borderwidth=0, itemwidth=52,
                         font=dict(family=FONT, size=30, color="#000000"))

fig.update_layout(
    width=W, height=H, margin=dict(l=0, r=0, t=0, b=0, autoexpand=False),
    paper_bgcolor="white", plot_bgcolor="white",
    shapes=shapes, annotations=annotations, **layout_axes, **legends,
)

fig.write_html("out.html")
